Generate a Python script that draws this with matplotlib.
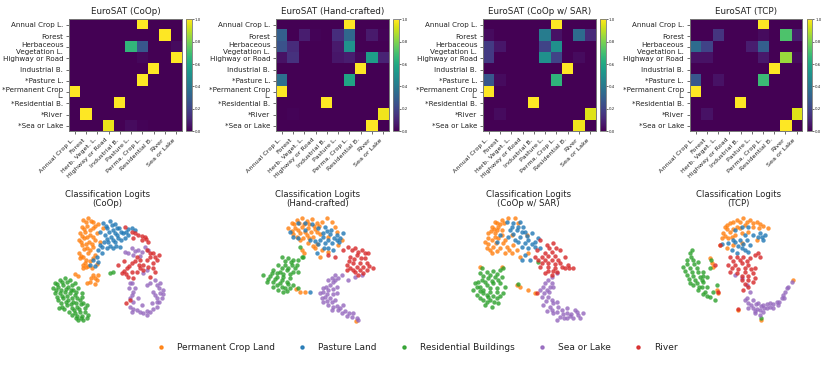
import numpy as np
import matplotlib
matplotlib.use("Agg")
import matplotlib.pyplot as plt

W, H = 831, 365

x_labels = ["Annual Crop L.", "Forest", "Herb. Veget. L.", "Highway or Road", "Industrial B.",
            "Pasture L.", "Perma. Crop L.", "Residential B.", "River", "Sea or Lake"]
y_labels = ["Annual Crop L.", "Forest", "Herbaceous\nVegetation L.", "Highway or Road", "Industrial B.",
            "*Pasture L.", "*Permanent Crop\nL.", "*Residential B.", "*River", "*Sea or Lake"]

cm_coop = [
    [0, 0, 0, 0, 0, 0, 1, 0, 0, 0],
    [0, 0, 0, 0, 0, 0, 0, 0, 1, 0],
    [0, 0, 0, 0, 0, .66, .27, 0, 0, .03],
    [0, 0, 0, 0, 0, 0, .02, 0, 0, 1],
    [0, 0, 0, 0, 0, 0, 0, 1, 0, 0],
    [0, 0, 0, 0, 0, 0, 1, 0, 0, 0],
    [1, 0, 0, 0, 0, 0, 0, 0, 0, 0],
    [0, 0, 0, 0, 1, 0, 0, 0, 0, 0],
    [0, 1, 0, 0, 0, 0, 0, 0, 0, 0],
    [0, 0, 0, .97, 0, .03, .01, 0, 0, 0],
]
cm_hand = [
    [0, 0, 0, 0, 0, 0, .99, 0, 0, 0],
    [.30, 0, .08, .01, 0, .13, .33, 0, .07, .01],
    [.25, .12, 0, 0, 0, .07, .50, 0, 0, 0],
    [.05, .14, 0, 0, 0, .06, .08, .02, .55, .10],
    [0, 0, 0, 0, 0, 0, 0, .99, 0, 0],
    [.36, 0, 0, 0, 0, 0, .58, 0, 0, 0],
    [.99, 0, 0, 0, 0, 0, 0, 0, 0, 0],
    [0, 0, 0, 0, .99, 0, 0, 0, 0, 0],
    [0, .01, 0, 0, 0, 0, 0, 0, 0, .97],
    [0, 0, 0, 0, 0, 0, 0, 0, .99, 0],
]
cm_sar = [
    [0, 0, 0, 0, 0, 0, 1, 0, 0, 0],
    [.03, 0, 0, 0, 0, .42, .05, 0, .35, .12],
    [.17, .06, 0, 0, 0, .20, .50, 0, 0, 0],
    [.17, 0, 0, 0, 0, .50, .20, 0, .03, 0],
    [0, 0, 0, 0, 0, 0, 0, 1, 0, 0],
    [.27, .03, 0, 0, 0, 0, .65, 0, 0, 0],
    [1, 0, 0, 0, 0, 0, 0, 0, 0, 0],
    [0, 0, 0, 0, 1, 0, 0, 0, 0, 0],
    [0, .03, 0, 0, 0, 0, 0, 0, 0, .95],
    [0, 0, 0, 0, 0, 0, 0, 0, .98, 0],
]
cm_tcp = [
    [0, 0, 0, 0, 0, 0, 1, 0, 0, 0],
    [0, 0, .15, 0, 0, 0, .03, 0, .72, .08],
    [.35, .20, 0, 0, 0, .08, .30, 0, 0, 0],
    [.05, .05, 0, 0, 0, 0, .07, 0, .85, .03],
    [0, 0, 0, 0, 0, 0, 0, 1, 0, 0],
    [.27, 0, .05, 0, 0, 0, .68, 0, 0, 0],
    [1, 0, 0, 0, 0, 0, 0, 0, 0, 0],
    [0, 0, 0, 0, 1, 0, 0, 0, 0, 0],
    [0, .05, 0, 0, 0, 0, 0, 0, 0, .95],
    [0, 0, 0, 0, 0, 0, 0, 0, 1, 0],
]

coop_orange = [(250,105),(265,100),(280,112),(245,125),(262,122),(278,130),(295,118),(240,145),(255,140),(270,150),(290,145),(238,165),(252,160),(268,172),(285,165),(245,180),(262,188),(280,185),(237,205),(250,215),(240,220),(265,205),(285,210),(255,235),(270,228),(250,250),(290,238),(280,270),(292,285),(262,295),(285,298),(235,272),(258,245),(300,170),(310,130),
    (258,112),(272,108),(252,132),(270,136),(286,122),(247,153),(262,156),(280,155),(244,172),(258,176),(275,178),(252,192),(270,196),(243,212),(257,225),(278,220),(263,242),(275,250),(248,240),(272,278),(285,278),(270,290),(295,270),(225,268)]
coop_blue = [(310,115),(330,108),(345,118),(322,130),(340,135),(358,128),(315,150),(332,155),(350,150),(370,145),(385,132),(405,135),(325,172),(345,172),(362,165),(305,185),(320,190),(340,190),(295,195),(280,225),(295,232),(305,205),(270,240),(360,185),(375,160),(385,150),(300,142),
    (318,122),(335,120),(350,128),(328,142),(345,145),(362,140),(322,162),(338,165),(355,160),(312,172),(330,182),(348,182),(290,215),(300,180),(285,242),(378,140),(395,130)]
coop_green = [(165,295),(180,285),(195,280),(210,285),(225,295),(160,310),(175,305),(190,300),(205,305),(220,315),(235,310),(165,325),(180,325),(195,320),(210,325),(225,330),(245,325),(175,345),(190,340),(205,345),(220,350),(240,345),(185,365),(200,360),(215,370),(232,365),(250,355),(262,360),(225,385),(240,380),(255,380),(265,390),(235,405),(250,405),(215,390),(245,335),(340,260),(330,265),
    (172,296),(187,292),(202,292),(216,300),(168,316),(182,314),(197,311),(212,314),(228,320),(172,335),(187,332),(202,334),(217,338),(232,338),(182,355),(197,350),(212,358),(227,355),(243,358),(192,372),(207,380),(222,375),(238,372),(255,368),(232,392),(247,392),(260,400),(228,398),(242,400),(178,368)]
coop_purple = [(375,200),(395,190),(415,195),(435,185),(445,195),(400,210),(420,212),(385,205),(430,265),(440,255),(395,295),(405,310),(395,330),(400,350),(390,365),(410,375),(430,385),(450,380),(470,365),(485,340),(490,315),(480,295),(465,285),(450,295),(460,320),(470,340),(455,355),(415,340),(440,300),(425,360),(395,380),(440,390),
    (405,198),(425,200),(390,295),(388,310),(398,320),(390,340),(398,372),(420,382),(440,378),(460,372),(478,352),(488,328),(478,310),(472,300),(480,325),(470,352),(465,330)]
coop_red = [(375,125),(395,140),(415,150),(435,155),(445,170),(425,165),(400,160),(440,195),(460,205),(478,210),(470,225),(450,215),(430,240),(410,215),(395,235),(380,250),(365,265),(385,275),(410,260),(430,255),(445,245),(465,262),(450,275),(372,228),(355,240),(400,280),(420,225),(460,235),(390,345),(378,355),
    (405,145),(425,152),(438,162),(450,205),(465,215),(440,225),(418,240),(405,228),(388,242),(372,258),(395,262),(420,250),(458,248),(378,268)]

hand_orange = [(875,115),(890,105),(905,100),(920,108),(935,102),(950,115),(965,110),(980,100),(995,112),(865,130),(885,128),(905,125),(925,128),(945,132),(1005,125),(880,148),(900,145),(920,150),(940,155),(960,148),(985,155),(1010,140),(925,175),(945,190),(965,195),(985,200),(900,165),(1025,165),(960,215),(1015,180),(905,195),(912,205),(900,320),(915,322),(888,312),(1068,408),
    (882,118),(897,113),(912,116),(928,116),(943,122),(958,122),(875,138),(895,135),(915,140),(932,140),(950,142),(892,155),(910,158),(928,160),(950,178),(938,182)]
hand_blue = [(870,140),(880,155),(895,160),(915,135),(935,118),(955,130),(975,125),(992,135),(1010,150),(1020,158),(960,165),(975,175),(995,175),(1010,165),(930,165),(945,168),(985,190),(895,115),(915,115),(970,145),(1000,195),(1030,145),(950,205),(930,320),
    (968,155),(985,165),(1002,160),(1018,172),(955,178),(972,188),(990,148),(980,138)]
hand_green = [(845,215),(865,220),(880,225),(895,225),(910,215),(835,240),(855,240),(875,240),(890,240),(820,255),(840,260),(860,255),(880,262),(895,262),(790,270),(810,272),(830,275),(850,275),(870,278),(800,290),(820,290),(840,295),(860,290),(820,305),(835,315),(855,310),(870,310),(850,322),(880,300),(895,310),(905,215),(900,185),
    (855,228),(872,232),(845,250),(865,248),(830,265),(850,266),(870,268),(805,282),(825,282),(845,285),(865,298),(830,300),(845,305),(860,318),(815,265),(885,250)]
hand_purple = [(1005,270),(1025,270),(1045,285),(1065,275),(1085,270),(985,285),(1005,285),(990,300),(1010,305),(970,310),(985,315),(1010,325),(960,325),(975,335),(990,340),(1005,345),(970,350),(985,360),(1000,365),(995,375),(1015,375),(1025,385),(1040,392),(1055,395),(1070,398),(1030,360),(1075,405),(1060,385),
    (995,278),(1015,278),(998,292),(978,305),(998,312),(968,320),(982,326),(998,328),(965,338),(982,348),(995,352),(1010,362),(1020,368),(1035,378),(1048,385)]
hand_red = [(1045,185),(1065,190),(1085,195),(1105,205),(1095,220),(1070,210),(1050,215),(1040,240),(1060,235),(1080,235),(1100,235),(1118,248),(1040,255),(1060,255),(1080,255),(1100,255),(1075,270),(1030,195),(1090,265),(1005,215),(985,210),
    (1075,200),(1095,205),(1082,218),(1062,222),(1048,228),(1070,245),(1090,245),(1108,242),(1050,248),(1065,262),(1055,195)]

sar_orange = [(225,110),(245,105),(265,100),(285,100),(215,125),(235,125),(205,145),(225,145),(245,135),(195,170),(215,165),(235,160),(255,165),(275,150),(200,190),(220,185),(240,190),(260,185),(280,180),(215,205),(255,205),(275,205),(300,215),(325,205),(295,115),(320,150),(290,300),(300,305),(325,315),(180,245),(245,245),(345,325),
    (232,115),(252,115),(222,132),(240,118),(212,138),(232,135),(205,158),(225,155),(245,150),(205,178),(228,175),(248,175),(210,195),(230,198),(268,195),(290,195)]
sar_blue = [(260,112),(280,115),(300,110),(310,125),(270,135),(290,135),(315,140),(335,145),(300,155),(325,165),(345,170),(265,155),(285,165),(305,185),(325,190),(345,185),(315,210),(330,225),(305,225),(240,150),(230,170),(355,160),(360,190),
    (275,125),(295,125),(280,148),(305,142),(320,152),(295,172),(315,175),(335,178)]
sar_green = [(180,265),(200,262),(220,258),(240,255),(250,250),(165,295),(185,285),(205,280),(225,275),(245,275),(160,315),(180,305),(200,300),(220,295),(240,295),(255,305),(170,330),(190,325),(210,320),(230,320),(250,325),(190,345),(210,345),(230,340),(195,360),(215,365),(235,355),(205,335),(185,250),(355,232),(295,298),
    (190,272),(210,270),(230,266),(175,292),(195,292),(215,288),(235,285),(170,305),(190,315),(210,308),(230,308),(180,318),(200,330),(220,332),(240,332),(180,340),(200,352),(222,352)]
sar_purple = [(395,275),(410,265),(375,295),(395,295),(360,315),(380,315),(400,305),(365,335),(385,335),(410,350),(370,360),(390,365),(415,365),(380,378),(400,385),(425,375),(440,370),(465,375),(490,385),(475,390),(420,395),(440,398),(460,398),(480,398),(410,405),(440,385),(395,345),
    (385,285),(370,305),(390,305),(372,325),(388,322),(378,348),(400,355),(395,375),(412,382),(430,388),(452,388),(470,382),(432,400),(450,392)]
sar_red = [(360,165),(380,180),(400,175),(420,195),(395,200),(375,205),(350,195),(355,225),(375,225),(395,225),(415,225),(435,215),(445,240),(460,250),(435,250),(360,245),(385,245),(405,250),(375,265),(395,270),(420,235),(410,262),(345,215),(350,325),
    (388,188),(408,188),(385,212),(405,212),(365,215),(365,235),(385,235),(405,238),(425,245),(448,250),(385,258),(398,258)]

tcp_orange = [(915,125),(930,115),(950,105),(970,100),(990,105),(1010,110),(1030,122),(1045,128),(910,145),(930,140),(950,125),(975,120),(1000,125),(1018,128),(905,160),(925,160),(945,150),(965,145),(985,140),(940,180),(965,175),(900,180),(1010,165),(920,190),(875,235),(880,245),(890,315),(1120,285),(955,375),(1022,405),(895,325),(870,220),
    (922,120),(940,112),(960,112),(980,110),(1000,114),(1020,116),(920,132),(940,132),(960,130),(915,152),(935,155)]
tcp_blue = [(945,135),(965,125),(985,125),(1020,145),(1035,150),(1015,155),(1000,150),(960,165),(980,165),(990,180),(945,170),(925,175),(965,190),(985,200),(950,205),(975,150),(1030,165),(935,195),(905,178),
    (1025,155),(970,178),(955,182),(975,195),(938,165)]
tcp_green = [(810,205),(800,225),(820,225),(835,230),(790,245),(810,250),(830,250),(850,260),(800,270),(820,272),(840,275),(860,275),(810,295),(830,295),(850,290),(835,315),(855,320),(870,335),(845,305),(880,320),(885,345),(872,225),(890,300),(815,195),(870,250),(1022,400),
    (812,215),(802,238),(822,238),(795,258),(815,262),(835,262),(850,272),(808,283),(825,285),(845,285),(820,300),(838,305),(860,305),(848,328),(862,332)]
tcp_purple = [(945,270),(965,280),(980,300),(990,320),(975,345),(985,355),(1000,345),(1015,355),(1030,360),(1050,355),(1070,350),(1085,340),(1095,320),(1105,305),(1115,292),(1090,330),(1075,360),(1000,370),(1020,375),(1040,370),(1005,385),(1020,390),(1060,370),(1030,380),(985,370),(1100,310),
    (992,360),(1008,358),(1022,362),(1040,358),(1060,358),(1078,350),(1092,338),(1012,372),(1032,370),(1050,366),(1005,378),(982,338)]
tcp_red = [(930,215),(950,215),(970,215),(990,220),(925,240),(945,240),(965,235),(985,240),(1005,250),(930,260),(950,265),(975,260),(1000,265),(965,285),(985,285),(1005,280),(985,305),(970,315),(1015,205),(1020,215),(1005,210),(895,320),(955,372),(885,240),(900,180),
    (940,228),(960,225),(980,228),(935,250),(955,252),(975,250),(992,252),(965,272),(985,272),(1000,290),(975,298)]

class_names = ["Permanent Crop Land", "Pasture Land", "Residential Buildings", "Sea or Lake", "River"]
class_colors = ["#ff7f0e", "#1f77b4", "#2ca02c", "#9467bd", "#d62728"]

hm_titles = ["EuroSAT (CoOp)", "EuroSAT (Hand-crafted)", "EuroSAT (CoOp w/ SAR)", "EuroSAT (TCP)"]
sc_titles = ["Classification Logits\n(CoOp)", "Classification Logits\n(Hand-crafted)",
             "Classification Logits\n(CoOp w/ SAR)", "Classification Logits\n(TCP)"]


def axpx(fig, x0, y0, x1, y1):
    return fig.add_axes([x0 / W, 1 - y1 / H, (x1 - x0) / W, (y1 - y0) / H])


fig = plt.figure(figsize=(W / 100, H / 100), dpi=100)

hm_left = [69.3, 276.3, 483.3, 690.0]
cb_left = [186.0, 393.0, 600.0, 806.7]
for m, title, hl, cl in zip([cm_coop, cm_hand, cm_sar, cm_tcp], hm_titles, hm_left, cb_left):
    ax = axpx(fig, hl, 19.3, hl + 112.3, 131.3)
    im = ax.imshow(np.array(m), cmap="viridis", aspect="auto")
    ax.set_xticks(range(10), x_labels, rotation=45, ha="right", fontsize=4.6, color="#222222")
    ax.set_yticks(range(10), y_labels, fontsize=5.1, linespacing=1.15, color="#222222")
    ax.tick_params(length=2.5, width=0.5, pad=1.8, color="#333333")
    ax.set_title(title, fontsize=6.3, pad=4, color="#222222")
    for s in ax.spines.values():
        s.set_linewidth(0.7)
        s.set_color("#777777")
    cax = axpx(fig, cl, 19.3, cl + 5.7, 131.3)
    cb = fig.colorbar(im, cax=cax)
    cb.set_ticks(np.arange(0, 1.01, 0.2))
    cb.ax.tick_params(labelsize=2.8, length=1.2, width=0.4, pad=0.8, labelcolor="#222222")
    cb.outline.set_linewidth(0.6)
    cb.outline.set_edgecolor("#777777")

panels = [
    (0.0, 123, [coop_orange, coop_blue, coop_green, coop_purple, coop_red]),
    (0.0, 754, [hand_orange, hand_blue, hand_green, hand_purple, hand_red]),
    (420.0, 125, [sar_orange, sar_blue, sar_green, sar_purple, sar_red]),
    (420.0, 756, [tcp_orange, tcp_blue, tcp_green, tcp_purple, tcp_red]),
]
for (offset, z0, groups), title in zip(panels, sc_titles):
    ax = axpx(fig, offset + z0 / 3, 185 + 80 / 3, offset + (z0 + 400) / 3, 185 + 430 / 3)
    ax.set_xlim(z0, z0 + 400)
    ax.set_ylim(430, 80)
    ax.axis("off")
    for pts, c, name in zip(groups, class_colors, class_names):
        arr = np.array(pts)
        ax.scatter(arr[:, 0], arr[:, 1], s=10, c=c, alpha=0.8, linewidths=0, label=name)
    ax.text(0.5, 1.03, title, transform=ax.transAxes, ha="center", va="bottom", fontsize=6.1,
            color="#222222", linespacing=1.05)

leg_handles = [plt.Line2D([], [], ls="", marker="o", ms=2.2, color=c, alpha=0.9) for c in class_colors]
fig.legend(leg_handles, class_names, loc="center", bbox_to_anchor=(415 / W, 1 - 348 / H), ncol=5, frameon=False,
           fontsize=6.5, handletextpad=0.8, columnspacing=2.0, labelcolor="#222222")

fig.savefig("out.png", dpi=100)
